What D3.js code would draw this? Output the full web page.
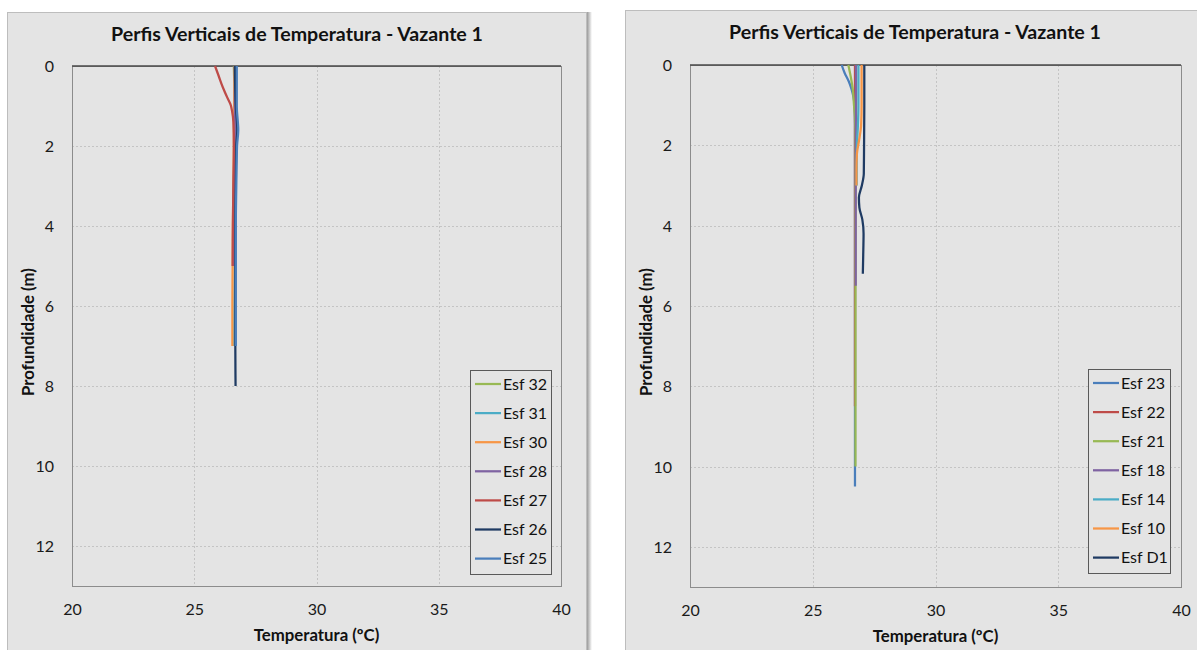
<!DOCTYPE html>
<html>
<head>
<meta charset="utf-8">
<script src="https://cdn.jsdelivr.net/npm/d3@7"></script>
<style>
  html, body { margin: 0; padding: 0; background: #ffffff; }
  svg { display: block; font-family: Lato, "Open Sans", sans-serif; }
</style>
</head>
<body>
<svg id="chart" width="1197" height="650"></svg>
<script>
// Axis settings shared by both panels
const tempTicks = [20, 25, 30, 35, 40];
const depthTicks = [0, 2, 4, 6, 8, 10, 12];
const tempDomain = [20, 40];
const depthDomain = [0, 13];

// Left panel profiles: [temperature ºC, depth m]
const esf32 = [[26.62, 0], [26.64, 0.5], [26.66, 1], [26.7, 1.5], [26.68, 2], [26.66, 3], [26.65, 4]];
const esf31 = [[26.68, 0], [26.7, 1], [26.76, 1.6], [26.72, 2], [26.7, 3], [26.68, 4], [26.66, 5], [26.64, 6], [26.63, 7]];
const esf30 = [[26.65, 0], [26.63, 1], [26.62, 2], [26.6, 3], [26.58, 4], [26.57, 5], [26.56, 6], [26.56, 7]];
const esf28 = [[26.66, 0], [26.66, 1], [26.68, 1.6], [26.65, 2], [26.62, 3], [26.6, 4], [26.6, 5]];
const esf27 = [[25.85, 0], [26.0, 0.25], [26.18, 0.55], [26.36, 0.8], [26.49, 0.97], [26.55, 1.14], [26.6, 1.4], [26.62, 2], [26.6, 3], [26.58, 4], [26.57, 5]];
const esf26 = [[26.66, 0], [26.7, 1], [26.76, 1.6], [26.72, 2], [26.7, 3], [26.68, 4], [26.68, 5], [26.68, 6], [26.68, 7], [26.69, 8]];
const esf25 = [[26.74, 0], [26.74, 1], [26.8, 1.6], [26.75, 2], [26.72, 3], [26.7, 4], [26.7, 5], [26.7, 6], [26.7, 7]];

// Right panel profiles: [temperature ºC, depth m]
const esf23 = [[26.18, 0], [26.3, 0.2], [26.46, 0.4], [26.58, 0.6], [26.66, 0.8], [26.7, 1], [26.72, 1.5], [26.72, 3], [26.72, 5], [26.72, 7], [26.72, 9], [26.72, 10.5]];
const esf22 = [[26.72, 0], [26.72, 1], [26.72, 2], [26.72, 4], [26.72, 6], [26.72, 8.5]];
const esf21 = [[26.45, 0], [26.55, 0.3], [26.63, 0.6], [26.68, 1], [26.72, 1.3], [26.74, 2], [26.74, 4], [26.74, 6], [26.74, 8], [26.74, 10]];
const esf18 = [[26.76, 0], [26.76, 1], [26.75, 2], [26.75, 3], [26.75, 4], [26.75, 5.5]];
const esf14 = [[26.86, 0], [26.86, 1], [26.84, 1.5], [26.8, 2], [26.79, 2.5], [26.79, 3]];
const esf10 = [[26.99, 0], [26.99, 1], [26.97, 1.5], [26.88, 1.9], [26.8, 2.2], [26.78, 2.6], [26.78, 3]];
const esfD1 = [[27.1, 0], [27.1, 1], [27.09, 2], [27.08, 2.7], [27.0, 3.0], [26.88, 3.3], [26.9, 3.55], [27.02, 3.85], [27.07, 4.2], [27.06, 4.6], [27.04, 5.2]];

// Series names and colours per panel
const leftNames = ["Esf 32", "Esf 31", "Esf 30", "Esf 28", "Esf 27", "Esf 26", "Esf 25"];
const leftSeries = [esf32, esf31, esf30, esf28, esf27, esf26, esf25];
const rightNames = ["Esf 23", "Esf 22", "Esf 21", "Esf 18", "Esf 14", "Esf 10", "Esf D1"];
const rightSeries = [esf23, esf22, esf21, esf18, esf14, esf10, esfD1];

const colorsLeft = ["#98b954", "#4bacc6", "#f79646", "#7f63a2", "#be4b48", "#1f3b63", "#4a7ebb"];
const colorsRight = ["#4a7ebb", "#be4b48", "#98b954", "#7f63a2", "#4bacc6", "#f79646", "#1f3b63"];

const titleText = "Perfis Verticais de Temperatura - Vazante 1";
const xLabel = "Temperatura (ºC)";
const yLabel = "Profundidade (m)";

const svg = d3.select("#chart");

// Soft shadow on the panels' right edge
const defs = svg.append("defs");
const grad = defs.append("linearGradient").attr("id", "edgeShadow");
grad.append("stop").attr("offset", "0%").attr("stop-color", "#9a9a9a");
grad.append("stop").attr("offset", "100%").attr("stop-color", "#ffffff");

function panel(cfg) {
  const g = svg.append("g");
  // panel background
  g.append("rect")
    .attr("x", cfg.px + 0.5).attr("y", cfg.py + 0.5)
    .attr("width", cfg.pw).attr("height", 700)
    .attr("fill", "#e4e4e4").attr("stroke", "#bdbdbd").attr("stroke-width", 1);
  g.append("rect")
    .attr("x", cfg.px + cfg.pw + 1).attr("y", cfg.py)
    .attr("width", 5).attr("height", 700)
    .attr("fill", "url(#edgeShadow)");

  const x = d3.scaleLinear().domain(tempDomain).range([cfg.left, cfg.right]);
  const y = d3.scaleLinear().domain(depthDomain).range([cfg.top, cfg.bottom]);

  // dotted grid
  g.append("g").selectAll("line.gx")
    .data(tempTicks.slice(1, -1)).join("line")
    .attr("x1", d => Math.round(x(d)) + 0.5).attr("x2", d => Math.round(x(d)) + 0.5)
    .attr("y1", cfg.top).attr("y2", cfg.bottom)
    .attr("stroke", "#c4c4c4").attr("stroke-dasharray", "2,2");
  g.append("g").selectAll("line.gy")
    .data(depthTicks.slice(1)).join("line")
    .attr("x1", cfg.left).attr("x2", cfg.right)
    .attr("y1", d => Math.round(y(d)) + 0.5).attr("y2", d => Math.round(y(d)) + 0.5)
    .attr("stroke", "#c4c4c4").attr("stroke-dasharray", "2,2");

  // plot frame
  g.append("rect")
    .attr("x", cfg.left + 0.5).attr("y", cfg.top + 0.5)
    .attr("width", cfg.right - cfg.left).attr("height", cfg.bottom - cfg.top)
    .attr("fill", "none").attr("stroke", "#8c8c8c");

  // axes using d3 axis generators, domain lines hidden
  const xAxis = g.append("g").attr("transform", `translate(0,${cfg.bottom})`)
    .call(d3.axisBottom(x).tickValues(tempTicks).tickSize(0).tickPadding(0));
  xAxis.select(".domain").remove();
  xAxis.selectAll("text").attr("dy", null).attr("y", 29)
    .attr("font-size", 16).attr("fill", "#1a1a1a").attr("font-family", "Lato, sans-serif");

  const yAxis = g.append("g").attr("transform", `translate(${cfg.left},0)`)
    .call(d3.axisLeft(y).tickValues(depthTicks).tickSize(0).tickPadding(18));
  yAxis.select(".domain").remove();
  yAxis.selectAll("text").attr("dy", "0.35em")
    .attr("font-size", 16).attr("fill", "#1a1a1a").attr("font-family", "Lato, sans-serif");

  // top axis line at depth 0
  g.append("line")
    .attr("x1", cfg.left).attr("x2", cfg.right)
    .attr("y1", y(0)).attr("y2", y(0))
    .attr("stroke", "#4a4a4a").attr("stroke-width", 1.6);

  // profiles
  const line = d3.line()
    .x(d => x(d[0])).y(d => y(d[1]))
    .curve(d3.curveMonotoneY);
  g.append("g").selectAll("path")
    .data(cfg.series).join("path")
    .attr("d", line)
    .attr("fill", "none")
    .attr("stroke", (d, i) => cfg.colors[i])
    .attr("stroke-width", 2.25)
    .attr("stroke-linejoin", "round");

  // title and axis titles
  g.append("text")
    .attr("x", cfg.titleX).attr("y", cfg.titleY)
    .attr("text-anchor", "middle").attr("font-weight", "bold").attr("font-size", 19.6)
    .attr("fill", "#111").text(titleText);
  g.append("text")
    .attr("x", (cfg.left + cfg.right) / 2).attr("y", cfg.bottom + 55)
    .attr("text-anchor", "middle").attr("font-weight", "bold").attr("font-size", 16.8)
    .attr("fill", "#111").text(xLabel);
  g.append("text")
    .attr("transform", `translate(${cfg.ylabX},${(cfg.top + cfg.bottom) / 2 + 6}) rotate(-90)`)
    .attr("text-anchor", "middle").attr("font-weight", "bold").attr("font-size", 16.8)
    .attr("fill", "#111").text(yLabel);

  // legend
  const lg = g.append("g");
  lg.append("rect")
    .attr("x", cfg.legX + 0.5).attr("y", cfg.legY + 0.5)
    .attr("width", cfg.legW).attr("height", 204)
    .attr("fill", "#e4e4e4").attr("stroke", "#595959");
  const items = lg.selectAll("g.item").data(cfg.names).join("g")
    .attr("transform", (d, i) => `translate(${cfg.legX},${cfg.legY + 14 + i * 29.1})`);
  items.append("line")
    .attr("x1", 5).attr("x2", 31).attr("y1", 0).attr("y2", 0)
    .attr("stroke", (d, i) => cfg.colors[i]).attr("stroke-width", 2.25);
  items.append("text")
    .attr("x", 33).attr("y", 0).attr("dy", "0.36em")
    .attr("font-size", 16).attr("fill", "#111").text(d => d);
}

panel({
  px: 7, py: 12, pw: 579,
  left: 72, right: 561, top: 66, bottom: 586,
  titleX: 297, titleY: 41, ylabX: 34,
  legX: 470, legY: 370, legW: 81,
  series: leftSeries, names: leftNames, colors: colorsLeft
});

panel({
  px: 625, py: 10, pw: 600,
  left: 690, right: 1181, top: 65, bottom: 587,
  titleX: 915, titleY: 39, ylabX: 652,
  legX: 1088, legY: 369, legW: 82,
  series: rightSeries, names: rightNames, colors: colorsRight
});
</script>
</body>
</html>
